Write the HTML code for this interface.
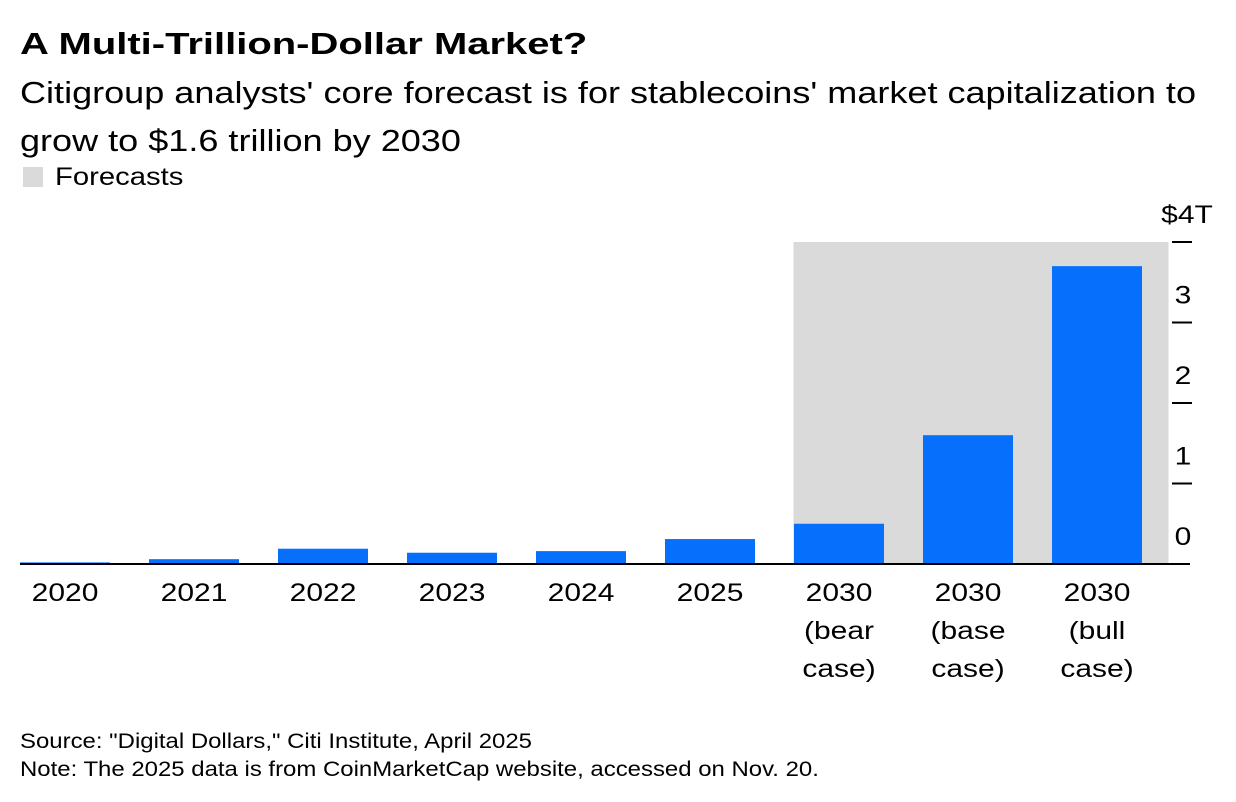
<!DOCTYPE html>
<html><head><meta charset="utf-8"><style>
body{margin:0;background:#fff;width:1236px;height:802px;overflow:hidden;font-family:"Liberation Sans",sans-serif;color:#000}
.t{position:absolute;left:20px;white-space:nowrap;transform-origin:0 0}
</style></head><body>
<div class="t" style="top:26px;font-size:31px;font-weight:bold;transform:scaleX(1.29)">A Multi-Trillion-Dollar Market?</div>
<div class="t" style="top:69px;font-size:31px;line-height:48px;transform:scaleX(1.163)">Citigroup analysts' core forecast is for stablecoins' market capitalization to<br>grow to $1.6 trillion by 2030</div>
<div class="t" style="left:23px;top:163px;font-size:25px"><span style="display:inline-block;width:20px;height:20px;background:#dadada;vertical-align:-2px;margin-right:12px"></span><span style="display:inline-block;transform:scaleX(1.17);transform-origin:0 0">Forecasts</span></div>
<svg id="c" width="1236" height="802" style="position:absolute;left:0;top:0"></svg>
<div class="t" style="top:728px;font-size:21px;line-height:28px;transform:scaleX(1.14)">Source: "Digital Dollars," Citi Institute, April 2025<br>Note: The 2025 data is from CoinMarketCap website, accessed on Nov. 20.</div>
<script>
const categories=["2020","2021","2022","2023","2024","2025","2030|(bear|case)","2030|(base|case)","2030|(bull|case)"];
const values=[0.02,0.06,0.19,0.14,0.16,0.31,0.5,1.6,3.7];
const tickValues=[0,1,2,3,4];
const tickLabels=["0","1","2","3","$4T"];
const forecastStart=6;
const svg=document.getElementById('c');const NS='http://www.w3.org/2000/svg';
const y0=564,pxPerT=80.5;
const y=v=>y0-v*pxPerT;
const x=i=>20+129*i;const bw=90;
function el(t,a){const e=document.createElementNS(NS,t);for(const k in a)e.setAttribute(k,a[k]);svg.appendChild(e);return e;}
const sh=el('rect',{x:x(forecastStart)-0.5,y:y(4),width:1169-x(forecastStart),height:y0-y(4),fill:'#dadada'});


values.forEach((v,i)=>{
 const r=el('rect',{x:x(i),y:y(v),width:bw,height:y0-y(v),fill:'#0670fd'});
 
 
 categories[i].split('|').forEach((s,j)=>{
  const t=el('text',{x:0,y:0,transform:'translate('+(x(i)+bw/2)+','+(601+j*38)+') scale(1.2,1)','text-anchor':'middle','font-size':25,'font-family':'Liberation Sans, sans-serif'});
  t.textContent=s;
  
  
 });
});
const ax=el('line',{x1:20,x2:1190,y1:y0,y2:y0,stroke:'#000','stroke-width':2});


tickValues.forEach((v,i)=>{
 if(v>0){const l=el('line',{x1:1172,x2:1192,y1:y(v),y2:y(v),stroke:'#000','stroke-width':2});
 
 }
 const t=el('text',{x:0,y:0,transform:'translate('+(v==4?1187:1183)+','+(y(v)-19)+') scale(1.2,1)','text-anchor':'middle','font-size':25,'font-family':'Liberation Sans, sans-serif'});
 t.textContent=tickLabels[i];
 
 
});
</script>
</body></html>
